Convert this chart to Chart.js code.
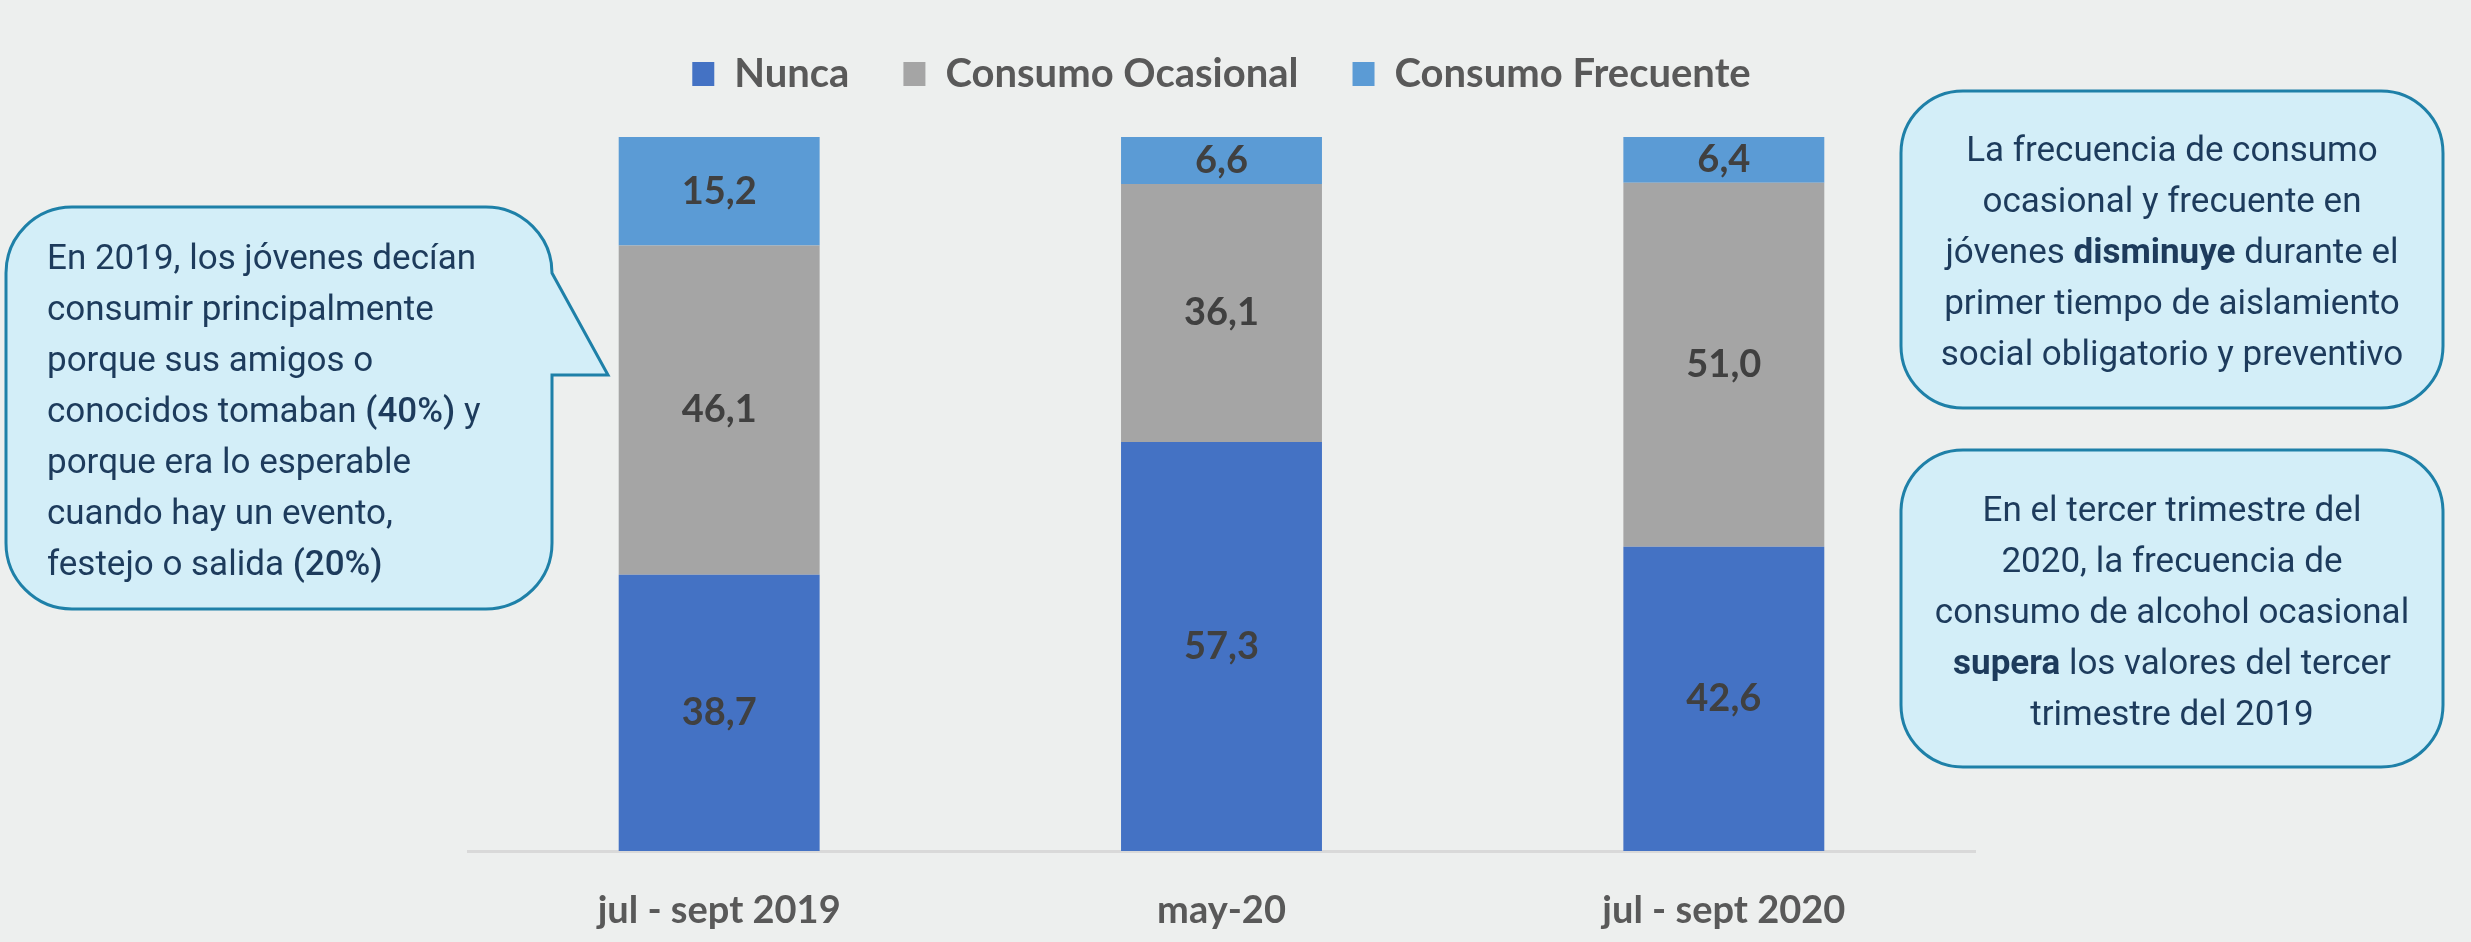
<!DOCTYPE html>
<html>
<head>
<meta charset="utf-8">
<script src="https://cdn.jsdelivr.net/npm/chart.js@4/dist/chart.umd.min.js"></script>
<style>
  html, body { margin: 0; padding: 0; background: #edefee; }
  #wrap { position: relative; width: 2471px; height: 942px; overflow: hidden; }
  #chart { position: absolute; left: 0; top: 0; }
  .bubble { position: absolute; left: 0; top: 0; }
  .note {
    position: absolute;
    font-family: Roboto, "Open Sans", sans-serif;
    font-size: 35px;
    line-height: 51px;
    color: #1d3b5c;
    white-space: nowrap;
  }
  .note b { font-weight: 700; }
  .note .m { font-weight: 500; }
</style>
</head>
<body>
<div id="wrap">
  <svg class="bubble" width="2471" height="942">
    <!-- speech bubble left -->
    <path d="M 72 207 H 486 A 66 66 0 0 1 552 273 L 608 375 L 552 375 V 543 A 66 66 0 0 1 486 609 H 72 A 66 66 0 0 1 6 543 V 273 A 66 66 0 0 1 72 207 Z"
          fill="#d3eef8" stroke="#1e80a8" stroke-width="3"/>
    <rect x="1901" y="91" width="542" height="317" rx="62" ry="62" fill="#d3eef8" stroke="#1e80a8" stroke-width="3"/>
    <rect x="1901" y="450" width="542" height="317" rx="62" ry="62" fill="#d3eef8" stroke="#1e80a8" stroke-width="3"/>
  </svg>
  <canvas id="chart" width="2471" height="942"></canvas>

  <div class="note" style="left:47px; top:232px; text-align:left;">
    En 2019, los jóvenes decían<br>
    consumir principalmente<br>
    porque sus amigos o<br>
    conocidos tomaban <span class="m">(40%)</span> y<br>
    porque era lo esperable<br>
    cuando hay un evento,<br>
    festejo o salida <span class="m">(20%)</span>
  </div>

  <div class="note" style="left:1901px; width:542px; top:124px; text-align:center;">
    La frecuencia de consumo<br>
    ocasional y frecuente en<br>
    jóvenes <b>disminuye</b> durante el<br>
    primer tiempo de aislamiento<br>
    social obligatorio y preventivo
  </div>

  <div class="note" style="left:1901px; width:542px; top:484px; text-align:center;">
    En el tercer trimestre del<br>
    2020, la frecuencia de<br>
    consumo de alcohol ocasional<br>
    <b>supera</b> los valores del tercer<br>
    trimestre del 2019
  </div>
</div>

<script>
// data
var periodos = ["jul - sept 2019", "may-20", "jul - sept 2020"];
var nunca = [38.7, 57.3, 42.6];
var ocasional = [46.1, 36.1, 51.0];
var frecuente = [15.2, 6.6, 6.4];

// push the plot area down below the legend
var legendGap = {
  id: 'legendGap',
  beforeInit: function(chart) {
    var fit = chart.legend.fit;
    chart.legend.fit = function() {
      fit.bind(chart.legend)();
      this.height += 33;
    };
  }
};

// value labels in the middle of each segment
var segLabels = {
  id: 'segLabels',
  afterDatasetsDraw: function(chart) {
    var ctx = chart.ctx;
    ctx.save();
    ctx.font = 'bold 38px Lato';
    ctx.fillStyle = '#404040';
    ctx.textAlign = 'center';
    ctx.textBaseline = 'middle';
    chart.data.datasets.forEach(function(ds, i) {
      var meta = chart.getDatasetMeta(i);
      meta.data.forEach(function(bar, j) {
        var p = bar.getProps(['x', 'y', 'base'], true);
        var txt = ds.data[j].toFixed(1).replace('.', ',');
        ctx.fillText(txt, p.x, (p.y + p.base) / 2);
      });
    });
    ctx.restore();
  }
};

var ctx = document.getElementById("chart").getContext("2d");

var myChart = new Chart(ctx, {
  type: 'bar',
  data: {
    labels: periodos,
    datasets: [
      { label: "Nunca", data: nunca, backgroundColor: "#4472c4" },
      { label: "Consumo Ocasional", data: ocasional, backgroundColor: "#a5a5a5" },
      { label: "Consumo Frecuente", data: frecuente, backgroundColor: "#5b9bd5" }
    ]
  },
  options: {
    responsive: false,
    animation: false,
    devicePixelRatio: 1,
    layout: { padding: { left: 468, right: 496, top: 0, bottom: 0 } },
    datasets: { bar: { categoryPercentage: 0.8, barPercentage: 0.5 } },
    plugins: {
      legend: {
        position: 'top',
        labels: {
          boxWidth: 22,
          boxHeight: 24,
          padding: 54,
          color: '#595959',
          font: { family: 'Lato', size: 40, weight: 'bold' }
        }
      },
      tooltip: { enabled: false }
    },
    scales: {
      x: {
        stacked: true,
        grid: { display: false },
        border: { display: true, color: '#d9d9d9', width: 3 },
        ticks: {
          color: '#595959',
          padding: 29,
          font: { family: 'Lato', size: 38, weight: 'bold' }
        },
        afterFit: function(scale) { scale.height = 91; }
      },
      y: {
        stacked: true,
        display: false,
        min: 0,
        max: 100
      }
    }
  },
  plugins: [legendGap, segLabels]
});
</script>
</body>
</html>
